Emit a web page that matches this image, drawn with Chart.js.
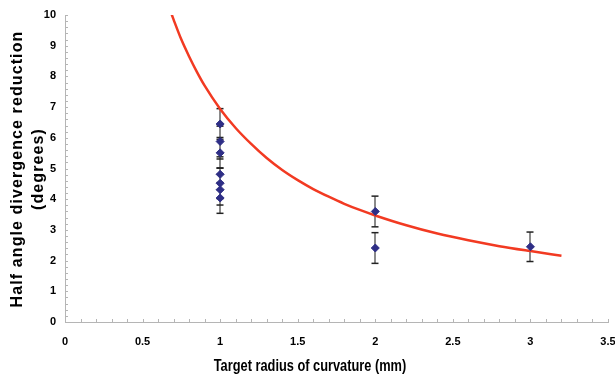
<!DOCTYPE html>
<html lang="en">
<head>
    <meta charset="UTF-8">
    <title>Half angle divergence reduction</title>
    <style>
        body { margin: 0; background: #fff; }
        #viz { display: block; }
    </style>
    <script src="https://cdn.jsdelivr.net/npm/chart.js"></script>
</head>
<body>
    <canvas id="viz" width="615" height="381"></canvas>
    <script>
        // measured points
        const radius = [1, 1, 1, 1, 1, 1, 1, 2, 2, 3]
        const reduction = [6.45, 5.88, 5.51, 4.81, 4.52, 4.31, 4.04, 3.6, 2.41, 2.45]
        const errors = [0.5, 0.5, 0.5, 0.5, 0.5, 0.5, 0.5, 0.5, 0.5, 0.48]

        // fitted curve
        const fitRadius = [0.66, 0.7, 0.75, 0.8, 0.85, 0.9, 1.0, 1.1, 1.2, 1.3, 1.4, 1.5, 1.6, 1.7, 1.8, 1.9, 2.0, 2.2, 2.4, 2.6, 2.8, 3.0, 3.2]
        const fitReduction = [10.4, 9.85, 9.2, 8.65, 8.15, 7.7, 6.94, 6.32, 5.8, 5.34, 4.95, 4.62, 4.33, 4.08, 3.85, 3.65, 3.47, 3.15, 2.88, 2.66, 2.47, 2.31, 2.16]

        const xTitle = 'Target radius of curvature (mm)'
        const yTitle = ['Half angle divergence reduction', '(degrees)']

        const sans = "'Liberation Sans', Arial, sans-serif"

        const errorBars = {
            id: 'errorBars',
            beforeDatasetsDraw(chart) {
                const { ctx, scales: { x, y } } = chart
                ctx.save()
                ctx.lineWidth = 2
                ctx.strokeStyle = '#8a8a8a'
                radius.forEach((r, i) => {
                    const px = Math.round(x.getPixelForValue(r))
                    const top = y.getPixelForValue(reduction[i] + errors[i])
                    const bot = y.getPixelForValue(reduction[i] - errors[i])
                    ctx.beginPath()
                    ctx.moveTo(px, top)
                    ctx.lineTo(px, bot)
                    ctx.stroke()
                })
                ctx.lineWidth = 1.5
                ctx.strokeStyle = '#222'
                radius.forEach((r, i) => {
                    const px = Math.round(x.getPixelForValue(r))
                    for (const v of [reduction[i] + errors[i], reduction[i] - errors[i]]) {
                        const py = y.getPixelForValue(v)
                        ctx.beginPath()
                        ctx.moveTo(px - 3.5, py)
                        ctx.lineTo(px + 3.5, py)
                        ctx.stroke()
                    }
                })
                ctx.restore()
            }
        }

        const axisDecor = {
            id: 'axisDecor',
            afterDraw(chart) {
                const { ctx, scales: { x, y } } = chart
                ctx.save()
                // small inward ticks
                ctx.strokeStyle = '#b5b5b5'
                ctx.lineWidth = 1
                const bottom = y.getPixelForValue(0)
                const left = x.getPixelForValue(0)
                for (let i = 1; i <= 35; i++) {
                    const px = Math.round(x.getPixelForValue(i / 10)) + 0.5
                    ctx.beginPath()
                    ctx.moveTo(px, bottom)
                    ctx.lineTo(px, bottom - 3)
                    ctx.stroke()
                }
                for (let i = 1; i <= 50; i++) {
                    const py = Math.round(y.getPixelForValue(i / 5)) + 0.5
                    ctx.beginPath()
                    ctx.moveTo(left, py)
                    ctx.lineTo(left + 3, py)
                    ctx.stroke()
                }
                // axis titles
                ctx.fillStyle = '#000'
                ctx.textAlign = 'center'
                ctx.textBaseline = 'middle'

                ctx.save()
                ctx.translate(310, 367)
                ctx.scale(0.8, 1)
                ctx.font = 'bold 16px ' + sans
                ctx.fillText(xTitle, 0, 0)
                ctx.restore()

                ctx.translate(0, 169)
                ctx.rotate(-Math.PI / 2)
                ctx.font = 'bold 16px ' + sans
                ctx.letterSpacing = '1.1px'
                ctx.fillText(yTitle[0], 0, 18)
                ctx.fillText(yTitle[1], 0, 39)
                ctx.restore()
            }
        }

        new Chart(document.getElementById('viz'), {
            type: 'scatter',
            data: {
                datasets: [
                    {
                        label: 'data',
                        data: radius.map((r, i) => ({ x: r, y: reduction[i] })),
                        pointStyle: 'rectRot',
                        pointRadius: 4,
                        backgroundColor: '#2e2e86',
                        borderColor: '#2e2e86',
                        borderWidth: 1,
                        order: 0
                    },
                    {
                        label: 'fit',
                        data: fitRadius.map((r, i) => ({ x: r, y: fitReduction[i] })),
                        showLine: true,
                        cubicInterpolationMode: 'monotone',
                        pointRadius: 0,
                        borderColor: '#f23a22',
                        borderWidth: 2.5,
                        order: 1
                    }
                ]
            },
            options: {
                responsive: false,
                animation: false,
                layout: { padding: { top: 15, right: 7, left: 0, bottom: 0 } },
                plugins: {
                    legend: { display: false },
                    tooltip: { enabled: false }
                },
                scales: {
                    x: {
                        type: 'linear',
                        min: 0,
                        max: 3.5,
                        grid: { display: false, tickLength: 0 },
                        border: { display: true, color: '#b5b5b5', width: 1 },
                        ticks: {
                            stepSize: 0.5,
                            maxRotation: 0,
                            padding: 13,
                            color: '#000',
                            font: { family: sans, size: 11, weight: 'bold' },
                            callback: (v) => v
                        },
                        afterFit(scale) {
                            scale.height = 59
                            scale.paddingLeft = 0
                            scale.paddingRight = 0
                        }
                    },
                    y: {
                        min: 0,
                        max: 10,
                        grid: { display: false, tickLength: 0 },
                        border: { display: true, color: '#b5b5b5', width: 1 },
                        ticks: {
                            stepSize: 1,
                            padding: 9,
                            color: '#000',
                            font: { family: sans, size: 11, weight: 'bold' }
                        },
                        afterFit(scale) {
                            scale.width = 65
                            scale.paddingTop = 0
                            scale.paddingBottom = 0
                        }
                    }
                }
            },
            plugins: [errorBars, axisDecor]
        })
    </script>
</body>
</html>
